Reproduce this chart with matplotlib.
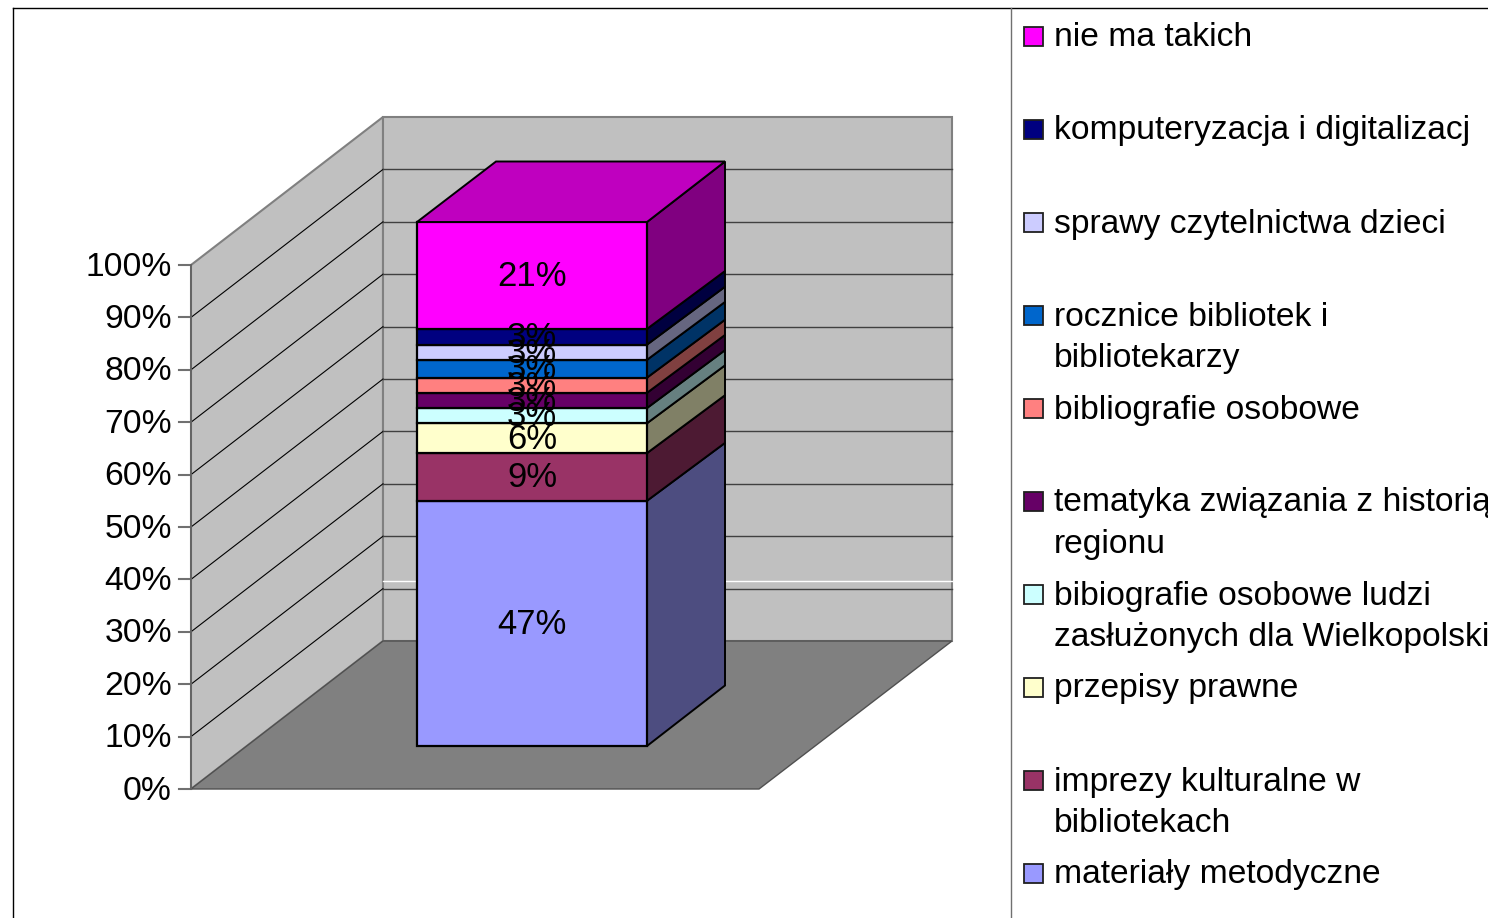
import matplotlib
matplotlib.use('Agg')
import matplotlib.pyplot as plt
from matplotlib.colors import to_rgb
from matplotlib.patches import Polygon, Rectangle
from matplotlib.transforms import Affine2D

plt.rcParams['font.family'] = ['Liberation Sans', 'DejaVu Sans']

# bottom to top of the stack
categories = ['materiały metodyczne', 'imprezy kulturalne w\nbibliotekach', 'przepisy prawne',
              'bibiografie osobowe ludzi\nzasłużonych dla Wielkopolski',
              'tematyka związania z historią\nregionu', 'bibliografie osobowe',
              'rocznice bibliotek i\nbibliotekarzy', 'sprawy czytelnictwa dzieci',
              'komputeryzacja i digitalizacj', 'nie ma takich']
values = [46.8, 9.1, 5.7, 2.9, 2.9, 2.9, 3.4, 2.9, 3.0, 20.4]
value_labels = ['47%', '9%', '6%', '3%', '3%', '3%', '3%', '3%', '3%', '21%']
colors = ['#9999FF', '#993366', '#FFFFCC', '#CCFFFF', '#660066',
          '#FF8080', '#0066CC', '#CCCCFF', '#000080', '#FF00FF']
axis_ticks = [0, 10, 20, 30, 40, 50, 60, 70, 80, 90, 100]

FS = 24.2
PX_PER_PCT = 5.24
SIDE_LIFT = 0.5  # inner edges of the side face sit a little lower at the back

fig = plt.figure(figsize=(14.88, 9.18), dpi=100)
ax = fig.add_axes([0, 0, 1, 1])
ax.set_xlim(0, 1488)
ax.set_ylim(918, 0)
ax.axis('off')


def plane(x0, y0, dx=0, dy=0):
    # (u, pct) -> pixels, u is depth (0..1) when dx/dy are given, else plain x
    sx = dx if dx else 1
    return Affine2D.from_values(sx, dy, 0, -PX_PER_PCT, x0, y0) + ax.transData


def shade(color, k):
    return tuple(c * k for c in to_rgb(color))


wall = plane(191, 789, 192, -148)
back = plane(383, 641)
front = plane(0, 746)
side = plane(647, 746, 78, -60.5)

# outer frame
ax.plot([12.5, 12.5], [918, 7.5], color='black', lw=1.0)
ax.plot([12.5, 1488], [7.5, 7.5], color='black', lw=1.0)
ax.plot([1010.5, 1010.5], [7.5, 918], color='#707070', lw=1.0)

# walls and floor
ax.add_patch(Polygon([(0, 0), (1, 0), (1, 100), (0, 100)], transform=wall,
                     fc='#C0C0C0', ec='#808080', lw=1.5))
ax.add_patch(Rectangle((0, 0), 569, 100, transform=back,
                       fc='#C0C0C0', ec='#808080', lw=1.5))
ax.add_patch(Polygon([(191, 789), (759, 789), (952, 641), (383, 641)],
                     fc='#808080', ec='#505050', lw=1))

for t in axis_ticks[1:-1]:
    ax.plot([0, 1], [t, t], transform=wall, color='black', lw=0.8)
    ax.plot([0, 569], [t, t], transform=back, color='#404040', lw=1.0)
ax.plot([0, 569], [11.5, 11.5], transform=back, color='white', lw=1.0)

# y axis
for t in axis_ticks:
    ax.plot([179, 191], [789 - PX_PER_PCT * t] * 2, color='#707070', lw=1.5)
    ax.text(172, 789 - PX_PER_PCT * t + 2, f'{t}%', ha='right', va='center', fontsize=FS)
ax.plot([191, 191], [265, 789], color='#606060', lw=1.2)

# stacked bar
bottom = 0
for i, (val, col) in enumerate(zip(values, colors)):
    low_back = bottom - SIDE_LIFT if i > 0 else bottom
    high_back = bottom + val - SIDE_LIFT if i < len(values) - 1 else bottom + val
    ax.add_patch(Polygon([(0, bottom), (1, low_back), (1, high_back), (0, bottom + val)],
                         transform=side, fc=shade(col, 0.5), ec='black', lw=1.4, zorder=3))
    ax.bar(532, val, 230, bottom=bottom, transform=front, color=col,
           edgecolor='black', lw=1.6, zorder=4)
    bottom += val

top_y = 746 - PX_PER_PCT * bottom
ax.add_patch(Polygon([(417, top_y), (647, top_y), (725, top_y - 60.5), (496, top_y - 60.5)],
                     fc=shade(colors[-1], 0.75), ec='black', lw=1.4, zorder=4))

bottom = 0
for val, lab in zip(values, value_labels):
    ax.text(532, 746 - PX_PER_PCT * (bottom + val / 2) + 1, lab, ha='center', va='center',
            fontsize=25, zorder=5)
    bottom += val

# legend, top entry first
for i, (name, col) in enumerate(zip(categories[::-1], colors[::-1])):
    y = 36 + 93 * i
    ax.add_patch(Rectangle((1024, y - 9.5), 19, 19, fc=col, ec='#202020', lw=1.3))
    for j, line in enumerate(name.split('\n')):
        ax.text(1054, y + 2 + 41.5 * j, line, ha='left', va='center', fontsize=FS)

fig.savefig('out.png', dpi=100)
